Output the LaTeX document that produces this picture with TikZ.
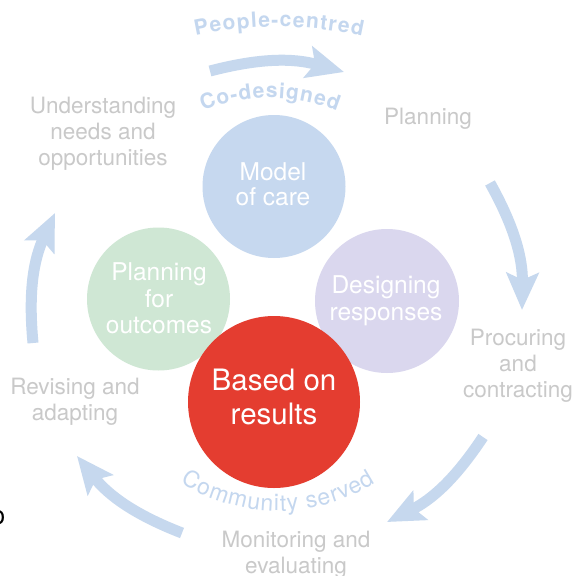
\documentclass[tikz,border=0pt]{standalone}
\usepackage{fontspec}
\setmainfont{TeX Gyre Heros}
\usetikzlibrary{arrows.meta,decorations.text}
\definecolor{arrowblue}{HTML}{C6D8EE}
\definecolor{curveblue}{HTML}{C4D7EF}
\definecolor{labelgrey}{HTML}{C9C9C9}
\definecolor{modelblue}{HTML}{C6D8EF}
\definecolor{outgreen}{HTML}{CFE7D4}
\definecolor{resplav}{HTML}{DAD7EE}
\definecolor{resultred}{HTML}{E43D30}
\tikzset{
  ring/.style={circle, inner sep=0pt, draw=none},
  circtext/.style={anchor=north, inner sep=0pt, align=center, text=white},
  greylabel/.style={anchor=north, inner sep=0pt, align=center, text=labelgrey,
    font=\fontsize{22.5}{26}\selectfont},
  cyclearrow/.style={draw=arrowblue, line width=11pt,
    -{Stealth[length=37pt,width=32pt,inset=7pt]}},
}
\begin{document}
\begin{tikzpicture}[x=1pt,y=1pt]
\useasboundingbox (0,0) rectangle (575,-576);
\fill[white] (0,0) rectangle (575,-576);

% circles
\node[ring, fill=modelblue, minimum size=143pt] (model) at (274,-186.5) {};
\node[ring, fill=outgreen, minimum size=143pt] (outc) at (158.5,-299) {};
\node[ring, fill=resplav, minimum size=144pt] (resp) at (387,-301) {};
\node[ring, fill=resultred, minimum size=172pt] (res) at (274,-402) {};

% circle texts
\node[circtext, font=\fontsize{24.5}{24.5}\selectfont] (modelt) at (273,-162.5) {Model\\of care};
\node[circtext, font=\fontsize{24.5}{26.5}\selectfont] (outct) at (159,-262.5) {Planning\\for\\outcomes};
\node[circtext, font=\fontsize{24.5}{27}\selectfont] (respt) at (386,-275.5) {Designing\\responses};
\node[circtext, font=\fontsize{29.5}{34}\selectfont] (rest) at (274,-368.5) {Based on\\results};

% grey stage labels
\node[greylabel] (und) at (103,-97) {Understanding\\needs and\\opportunities};
\node[greylabel] (plan) at (428,-108) {Planning};
\node[greylabel] (proc) at (518,-328.5) {Procuring\\and\\contracting};
\node[greylabel] (mon) at (296,-531) {Monitoring and\\evaluating};
\node[greylabel] (rev) at (75,-378) {Revising and\\adapting};

% curved texts
\path[decorate, decoration={text along path, text color=curveblue, text align={fit to path},
  text={|\bfseries\fontsize{21}{21}\selectfont|People-centred}}]
  (278,-423) ++(102:396) arc (102:77.7:396);
\path[decorate, decoration={text along path, text color=curveblue, text align={fit to path},
  text={|\bfseries\fontsize{21}{21}\selectfont|Co-designed}}]
  (270,-277) ++(112:179) arc (112:68:179);
\path[decorate, decoration={text along path, text color=curveblue, text align={fit to path},
  text={|\fontsize{23}{23}\selectfont|Community served}}]
  (278,-329) ++(237.5:182) arc (237.5:302.5:182);

% cycle arrows
\coordinate (a1s) at (210,-71);
\coordinate (a1e) at (344,-72);
\coordinate (a2s) at (490,-183);
\coordinate (a2e) at (522,-310);
\coordinate (a3s) at (483,-437);
\coordinate (a3e) at (387,-522);
\coordinate (a4s) at (182,-533);
\coordinate (a4e) at (77,-456);
\coordinate (a5s) at (33,-343);
\coordinate (a5e) at (55,-213);
\draw[cyclearrow] (a1s) to[bend left=15] (a1e);
\draw[cyclearrow] (a2s) to[bend left=15] (a2e);
\draw[cyclearrow] (a3s) to[bend left=15] (a3e);
\draw[cyclearrow] (a4s) to[bend left=15] (a4e);
\draw[cyclearrow] (a5s) to[bend left=15] (a5e);

% fragment of a character cut at the left edge
\begin{scope}
\clip (0,0) rectangle (575,-576);
\node[anchor=east, inner sep=0pt, font=\fontsize{26}{26}\selectfont] (frag) at (5.5,-517.5) {o};
\end{scope}
\end{tikzpicture}
\end{document}
